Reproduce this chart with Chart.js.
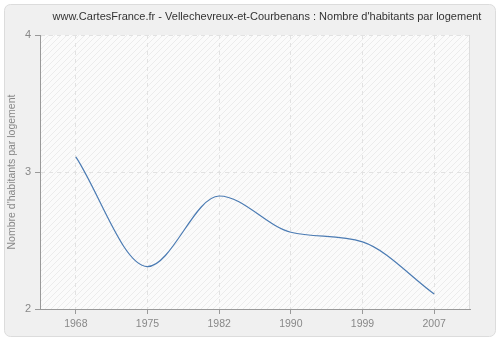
<!DOCTYPE html>
<html>
<head>
<meta charset="utf-8">
<script src="https://cdn.jsdelivr.net/npm/chart.js@4"></script>
<style>
  html, body { margin: 0; padding: 0; background: #fff; }
  #wrap { width: 500px; height: 340px; }
</style>
</head>
<body>
<div id="wrap"><canvas id="chart" width="500" height="340"></canvas></div>
<script>
const years = ['1968', '1975', '1982', '1990', '1999', '2007'];
const habitantsParLogement = [3.11, 2.31, 2.825, 2.56, 2.49, 2.11];
const yTicks = [2, 3, 4];
const titleText = "www.CartesFrance.fr - Vellechevreux-et-Courbenans : Nombre d'habitants par logement";
const yTitle = "Nombre d'habitants par logement";

// hatched background for the plot area
function hatchPattern(ctx) {
    const c = document.createElement('canvas');
    c.width = 6; c.height = 6;
    const p = c.getContext('2d');
    p.fillStyle = '#fbfbfb';
    p.fillRect(0, 0, 6, 6);
    p.strokeStyle = '#ececec';
    p.lineWidth = 1;
    p.beginPath();
    p.moveTo(0, 6); p.lineTo(6, 0);
    p.moveTo(-1, 1); p.lineTo(1, -1);
    p.moveTo(5, 7); p.lineTo(7, 5);
    p.stroke();
    return ctx.createPattern(c, 'repeat');
}

const backdrop = {
    id: 'backdrop',
    beforeDraw(chart) {
        const ctx = chart.ctx;
        const a = chart.chartArea;
        ctx.save();
        // outer panel
        ctx.fillStyle = '#f0f0f0';
        ctx.strokeStyle = '#dcdcdc';
        ctx.lineWidth = 1;
        ctx.beginPath();
        ctx.roundRect(4.5, 4.5, 491, 332, 6);
        ctx.fill();
        ctx.stroke();
        // plot area
        ctx.fillStyle = hatchPattern(ctx);
        ctx.fillRect(a.left, a.top, a.right - a.left, a.bottom - a.top);
        ctx.strokeStyle = '#dddddd';
        ctx.beginPath();
        ctx.moveTo(a.right - 0.5, a.top);
        ctx.lineTo(a.right - 0.5, a.bottom);
        ctx.stroke();
        // title
        ctx.fillStyle = '#333333';
        ctx.font = '11px "Liberation Sans", Arial, sans-serif';
        ctx.textAlign = 'center';
        ctx.textBaseline = 'middle';
        ctx.fillText(titleText, 267, 17);
        ctx.restore();
    }
};

new Chart(document.getElementById('chart').getContext('2d'), {
    type: 'line',
    data: {
        labels: years,
        datasets: [{
            data: habitantsParLogement,
            borderColor: '#4b7bb3',
            borderWidth: 1.2,
            pointRadius: 0,
            fill: false,
            cubicInterpolationMode: 'monotone'
        }]
    },
    options: {
        responsive: false,
        animation: false,
        layout: { padding: { top: 35, right: 30, left: 0, bottom: 0 } },
        plugins: {
            legend: { display: false },
            tooltip: { enabled: false }
        },
        scales: {
            x: {
                offset: true,
                afterFit: s => { s.height = 31; },
                grid: {
                    offset: false,
                    color: '#e2e2e2',
                    tickColor: '#999999',
                    tickLength: 5,
                    tickBorderDash: []
                },
                border: { color: '#999999', dash: [4, 4] },
                ticks: {
                    color: '#888888',
                    padding: 4,
                    font: { family: '"Liberation Sans", Arial, sans-serif', size: 10.5 }
                }
            },
            y: {
                min: 2,
                max: 4,
                afterFit: s => { s.width = 40; },
                afterBuildTicks: s => { s.ticks = yTicks.map(v => ({ value: v })); },
                grid: {
                    color: '#e2e2e2',
                    tickColor: '#999999',
                    tickLength: 5,
                    tickBorderDash: []
                },
                border: { color: '#999999', dash: [4, 4] },
                ticks: {
                    color: '#888888',
                    padding: 4,
                    font: { family: '"Liberation Sans", Arial, sans-serif', size: 11 }
                },
                title: {
                    display: true,
                    text: yTitle,
                    color: '#888888',
                    padding: { top: 6, bottom: 0 },
                    font: { family: '"Liberation Sans", Arial, sans-serif', size: 10.5 }
                }
            }
        }
    },
    plugins: [backdrop]
});
</script>
</body>
</html>
